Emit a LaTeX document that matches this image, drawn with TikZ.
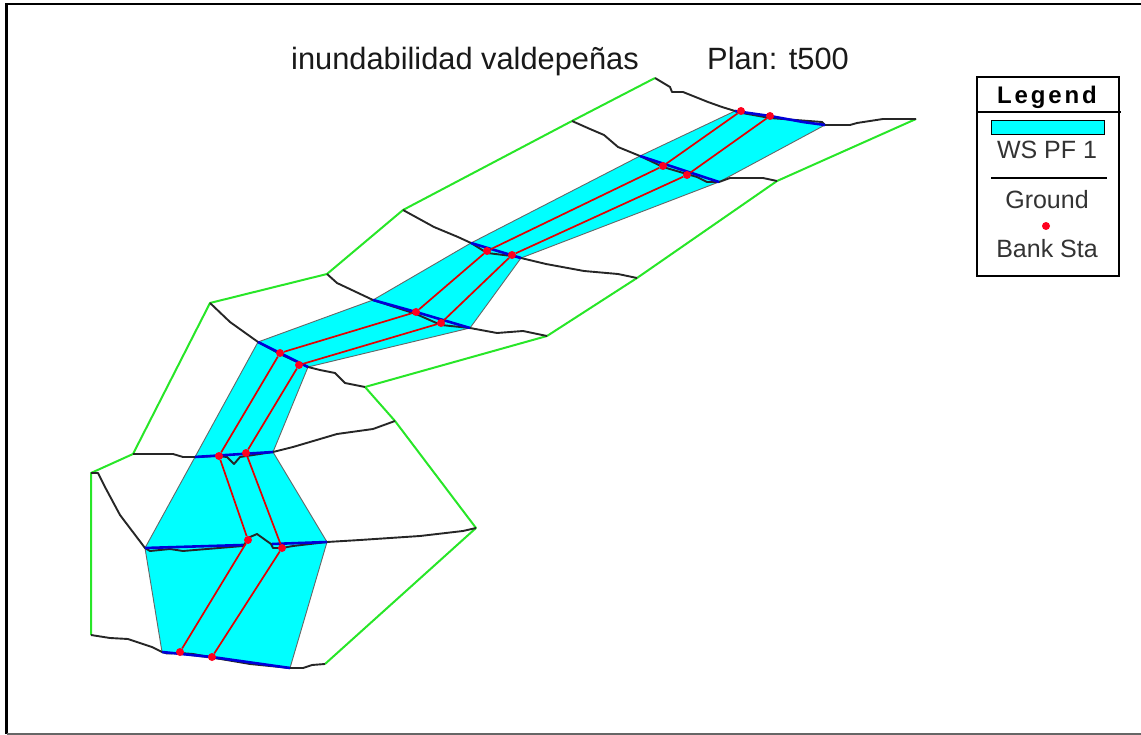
\documentclass[tikz,border=0pt]{standalone}
\usepackage{fontspec}
\setmainfont{Liberation Sans}
\usetikzlibrary{positioning}
\definecolor{waterc}{RGB}{0,255,255}
\definecolor{reachc}{RGB}{40,230,40}
\definecolor{bankc}{RGB}{255,0,30}
\begin{document}
\begin{tikzpicture}[x=1pt,y=-1pt]
		\tikzstyle{frame} = [draw=black, line width=2.2]
		\tikzstyle{water} = [fill=waterc, draw=black!60, line width=0.9]
		\tikzstyle{bound} = [draw=reachc, line width=2, line join=round]
		\tikzstyle{ground} = [draw=black!85, line width=1.9, line join=round]
		\tikzstyle{surface} = [draw=blue!85!black, line width=2.6, line join=round]
		\tikzstyle{reach} = [draw=red!90!black, line width=1.7]
		\tikzstyle{bank} = [shape=circle, fill=bankc, inner sep=0, minimum size=8]
		\tikzstyle{title} = [anchor=base, inner sep=0, text=black!90, font=\fontsize{30.8}{32}\selectfont]
		\tikzstyle{legendtext} = [anchor=base, inner sep=0, text=black!80, font=\fontsize{25}{27}\selectfont]
		\useasboundingbox (0,0) rectangle (1141,735);
		% frame
		\draw [frame] (1141,4) -- (6.5,4) -- (6.5,734);
		\draw [draw=black!60, line width=1.5] (6.5,734) -- (1141,734);
		% section ends
		\coordinate (l1) at (91,635);
		\coordinate (l2) at (91,473);
		\coordinate (l3) at (133,454);
		\coordinate (l4) at (210,303);
		\coordinate (l5) at (327,274);
		\coordinate (l6) at (403,210);
		\coordinate (l7) at (572,121);
		\coordinate (l8) at (655,78);
		\coordinate (r1) at (325,664);
		\coordinate (r2) at (476,528);
		\coordinate (r3) at (395,421);
		\coordinate (r4) at (365,387);
		\coordinate (r5) at (547,336);
		\coordinate (r6) at (637,278);
		\coordinate (r7) at (777,181);
		\coordinate (r8) at (916,119);
		% water edges
		\coordinate (w1) at (162,652);
		\coordinate (w2) at (145,548);
		\coordinate (w3) at (195,457);
		\coordinate (w4) at (258,342);
		\coordinate (w5) at (373,300);
		\coordinate (w6) at (471,243);
		\coordinate (w7) at (640,156);
		\coordinate (w8) at (735,111);
		\coordinate (e1) at (290,668);
		\coordinate (e2) at (327,542);
		\coordinate (e3) at (273,452);
		\coordinate (e4) at (308,367);
		\coordinate (e5) at (470,328);
		\coordinate (e6) at (521,258);
		\coordinate (e7) at (719,182);
		\coordinate (e8) at (825,125);
		\draw [water] (w1) -- (w2) -- (w3) -- (w4) -- (w5) -- (w6) -- (w7) -- (w8) -- (e8) -- (e7) -- (e6) -- (e5) -- (e4) -- (e3) -- (e2) -- (e1) -- cycle;
		% bounds
		\draw [bound] (l1) -- (l2) -- (l3) -- (l4) -- (l5) -- (l6) -- (l7) -- (l8);
		\draw [bound] (r1) -- (r2) -- (r3) -- (r4) -- (r5) -- (r6) -- (r7) -- (r8);
		% ground
		\draw [ground] (l1) -- (110,638) -- (128,639) -- (152,647) -- (w1) -- (167,653.5) -- (180,653) -- (193,654) -- (212,657.5) -- (250,664) -- (e1) -- (303,668) -- (312,665) -- (r1);
		\draw [ground] (l2) -- (98,473) -- (105,487) -- (120,515) -- (w2) -- (150,551) -- (170,549) -- (183,551) -- (243,546) -- (250,537) -- (257,534) -- (271,544) -- (273,548) -- (282,548) -- (293,546) -- (e2) -- (360,540) -- (420,536) -- (463,531) -- (r2);
		\draw [ground] (l3) -- (173,454) -- (183,457) -- (w3) -- (217,456) -- (227,457) -- (234,464) -- (240,457) -- (e3) -- (293,447) -- (337,434) -- (373,429) -- (r3);
		\draw [ground] (l4) -- (230,322) -- (w4) -- (280,354) -- (e4) -- (320,370) -- (335,373) -- (345,383) -- (r4);
		\draw [ground] (l5) -- (337,283) -- (w5) -- (416,314) -- (441,325) -- (e5) -- (497,333) -- (523,331) -- (r5);
		\draw [ground] (l6) -- (434,227) -- (458,237) -- (w6) -- (487,253) -- (512,256) -- (e6) -- (546,264) -- (584,271) -- (618,274) -- (r6);
		\draw [ground] (l7) -- (590,129) -- (604,135) -- (618,147) -- (w7) -- (663,167) -- (697,177) -- (707,182) -- (e7) -- (730,178) -- (763,178) -- (r7);
		\draw [ground] (l8) -- (670,87) -- (672,92) -- (683,92) -- (708,102) -- (722,107) -- (w8) -- (742,113) -- (770,118) -- (822,122) -- (e8) -- (850,125) -- (857,123) -- (883,119) -- (r8);
		% water surface
		\draw [surface] (w1) -- (212,657) -- (e1);
		\draw [surface] (w2) -- (243,545);
		\draw [surface] (272,544) -- (e2);
		\draw [surface] (w3) -- (e3);
		\draw [surface] (w4) -- (e4);
		\draw [surface] (w5) -- (416,312) -- (e5);
		\draw [surface] (w6) -- (e6);
		\draw [surface] (w7) -- (e7);
		\draw [surface] (w8) -- (770,116) -- (803,122) -- (e8);
		% bank stations
		\node [bank] (a1) at (180,652) {};
		\node [bank] (a2) at (248,540) {};
		\node [bank] (a3) at (219,456) {};
		\node [bank] (a4) at (280,353) {};
		\node [bank] (a5) at (416,312) {};
		\node [bank] (a6) at (487,251) {};
		\node [bank] (a7) at (663,166) {};
		\node [bank] (a8) at (741,111) {};
		\node [bank] (c1) at (212,657) {};
		\node [bank] (c2) at (282,548) {};
		\node [bank] (c3) at (246,453) {};
		\node [bank] (c4) at (299,365) {};
		\node [bank] (c5) at (441,323) {};
		\node [bank] (c6) at (512,255) {};
		\node [bank] (c7) at (687,175) {};
		\node [bank] (c8) at (770,116) {};
		\draw [reach] (a1) -- (a2) -- (a3) -- (a4) -- (a5) -- (a6) -- (a7) -- (a8);
		\draw [reach] (c1) -- (c2) -- (c3) -- (c4) -- (c5) -- (c6) -- (c7) -- (c8);
		% title
		\node [title] (t_name) at (465,70) {inundabilidad valdepeñas};
		\node [title] (t_plan) at (778,70) {Plan: t500};
		% legend
		\node [draw, line width=1.5, minimum width=142, minimum height=199, inner sep=0] (v_box) at (1048,176.5) {};
		\coordinate (v_divl) at (977,112);
		\coordinate (v_divr) at (1121,112);
		\draw [line width=1.4] (v_divl) -- (v_divr);
		\node [anchor=base, inner sep=0, font=\fontsize{24}{26}\selectfont\bfseries\addfontfeatures{LetterSpace=12}] (v_title) at (1047,103.5) {Legend};
		\node [draw=black, line width=1.4, fill=waterc, minimum width=113, minimum height=14, inner sep=0] (v_ws) at (1048,127.5) {};
		\node [legendtext] (v_wstext) at (1047,158.5) {WS PF 1};
		\coordinate (v_gl) at (991,178);
		\coordinate (v_gr) at (1107,178);
		\draw [line width=1.3] (v_gl) -- (v_gr);
		\node [legendtext] (v_gtext) at (1047,208.5) {Ground};
		\node [bank] (v_dot) at (1046,226) {};
		\node [legendtext] (v_btext) at (1047,257.5) {Bank Sta};
\end{tikzpicture}
\end{document}
